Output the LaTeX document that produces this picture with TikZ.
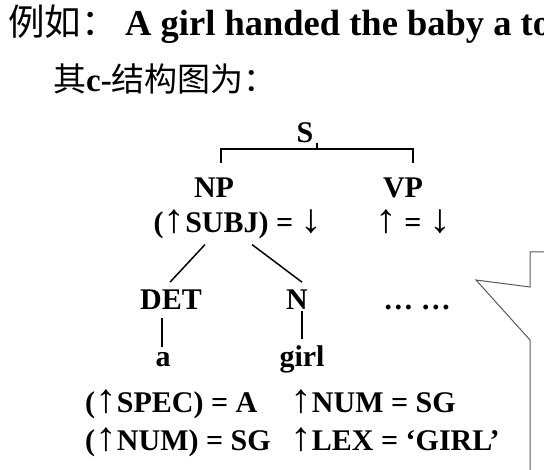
\documentclass[tikz,border=0pt]{standalone}
\usepackage{fontspec}
\setmainfont{Liberation Serif}
\newfontfamily\cjk{Noto Sans CJK SC}
\usetikzlibrary{calc}
\tikzset{t/.style={font=\fontsize{30}{30}\selectfont\bfseries, inner sep=0pt, anchor=base}}
\tikzset{tl/.style={t, anchor=base west}}
\tikzset{h/.style={font=\fontsize{36.5}{36.5}\selectfont\bfseries, inner sep=0pt, anchor=base west}}
\tikzset{hc/.style={font=\fontsize{33}{33}\selectfont\bfseries, inner sep=0pt, anchor=base west}}
\tikzset{br/.style={line width=1.5pt}}
\newcommand{\uarr}{{\mdseries\scalebox{1.45}[1.35]{↑}}}
\newcommand{\darr}{{\mdseries\scalebox{1.45}[1.35]{↓}}}

\begin{document}
\begin{tikzpicture}[x=1pt,y=-1pt]
        \useasboundingbox (0,0) rectangle (544,470);
        % heading
        \node[h] (ex) at (8,36) {\mdseries\cjk 例如：};
        \node[h] (sent) at (125,36) {A girl handed the baby a to};
        \node[hc] (title) at (53,92) {{\mdseries\cjk 其}c-{\mdseries\cjk 结构图为：}};
        % c-structure
        \node[t] (S) at (305,143) {S};
        \node[t] (NP) at (214,198) {NP};
        \node[t] (VP) at (403,198) {VP};
        \node[t] (NPf) at (238,233) {(\uarr SUBJ) = \darr};
        \node[t] (VPf) at (413,233) {\uarr\ = \darr};
        \node[t] (DET) at (171,310) {DET};
        \node[t] (N) at (297,310) {N};
        \node[t] (more) at (417,310) {\dots\ \dots};
        \node[t] (a) at (163,367) {a};
        \node[t] (girl) at (302,367) {girl};
        \node[tl] (spec) at (85,413) {(\uarr SPEC) = A};
        \node[tl] (numg) at (290,413) {\uarr NUM = SG};
        \node[tl] (numd) at (85,451) {(\uarr NUM) = SG};
        \node[tl] (lex) at (290,451) {\uarr LEX = `GIRL'};
        % bracket under S
        \coordinate (Sj) at (317,149);
        \coordinate (Sl) at (221,163);
        \coordinate (Sr) at (413,163);
        \draw[br] (Sj) -- ++(0,-6);
        \draw[br] (Sl) |- (Sj) -| (Sr);
        % branches
        \draw[br] ([xshift=-33pt,yshift=-5pt]NPf.south) -- ([xshift=-1pt,yshift=8pt]DET.north);
        \draw[br] ([xshift=14pt,yshift=-5pt]NPf.south) -- ([xshift=5pt,yshift=8pt]N.north);
        \draw[br] (a.north) ++(-1,-6) -- ++(0,-29);
        \draw[br] (girl.north) ++(0,-7) -- ++(0,-28);
        % callout
        \draw[gray!70!black, line width=1pt] (550,252) -- (530,252) -- (530,287)
          -- (476,280) -- (530,340) -- (530,476);
      \end{tikzpicture}
\end{document}
